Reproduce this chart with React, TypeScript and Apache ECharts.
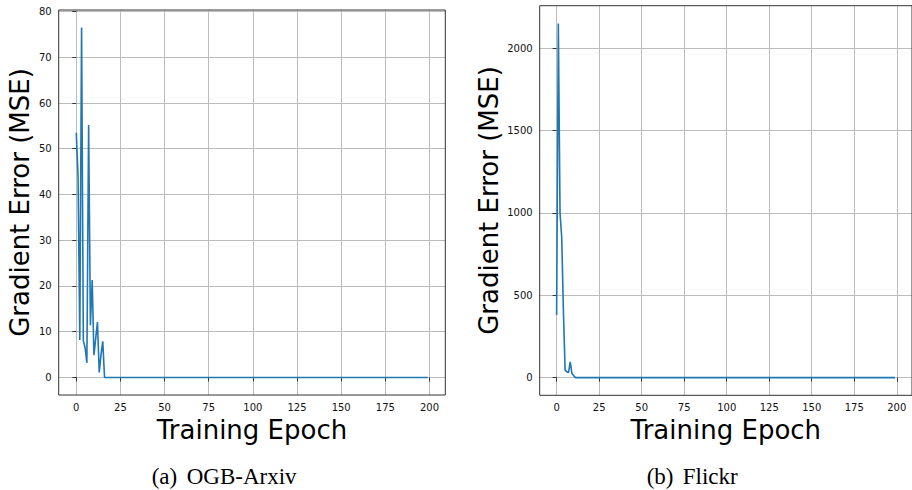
import React, { useEffect, useRef } from "react";
import * as echarts from "echarts";

// OGB-Arxiv gradient error (MSE) per training epoch
const arxivEpochs = [0, 1, 2, 3, 4, 5, 6, 7, 8, 9, 10, 11, 12, 13, 14, 15, 16, 199];
const arxivValues = [53.5, 44, 8.2, 76.5, 8.0, 6.5, 3.2, 55.2, 11.4, 21.3, 4.9, 8.5, 12.1, 1.1, 5.0, 7.9, 0, 0];

// Flickr gradient error (MSE) per training epoch
const flickrEpochs = [0, 1, 2, 3, 4, 5, 6, 7, 8, 9, 10, 11, 199];
const flickrValues = [380, 2150, 1000, 850, 400, 45, 35, 30, 95, 25, 12, 0, 0];

// tick labels
const xTicks = [0, 25, 50, 75, 100, 125, 150, 175, 200];
const arxivYTicks = [0, 10, 20, 30, 40, 50, 60, 70, 80];
const flickrYTicks = [0, 500, 1000, 1500, 2000];

const captionA = ["(a)", "OGB-Arxiv"];
const captionB = ["(b)", "Flickr"];

const FONT = "DejaVu Sans";
const SERIF = "Liberation Serif";

export default function App() {
  const ref = useRef<HTMLDivElement>(null);
  useEffect(() => {
    const chart = echarts.init(ref.current!, null, { renderer: "svg" });

    const plain = (v: number) => String(v);

    const mkX = (gridIndex: number) => ({
      type: "value",
      gridIndex,
      min: -9.95,
      max: 208.95,
      minInterval: 25,
      maxInterval: 25,
      name: "Training Epoch",
      nameLocation: "middle",
      nameGap: 20,
      nameTextStyle: { fontFamily: FONT, fontSize: 26, color: "#000" },
      axisLine: { show: false },
      axisTick: { show: true, inside: false, length: 4, customValues: xTicks, lineStyle: { color: "#333", width: 1 } },
      axisLabel: { customValues: xTicks, formatter: plain, margin: 7, fontFamily: FONT, fontSize: 10, color: "#111" },
      splitLine: { show: true, lineStyle: { color: "#bcbcbc", width: 1 } },
    });

    const mkY = (gridIndex: number, min: number, max: number, step: number, ticks: number[], gap: number) => ({
      type: "value",
      gridIndex,
      min,
      max,
      minInterval: step,
      maxInterval: step,
      name: "Gradient Error (MSE)",
      nameLocation: "middle",
      nameGap: gap,
      nameTextStyle: { fontFamily: FONT, fontSize: 26, color: "#000" },
      axisLine: { show: false },
      axisTick: { show: true, inside: false, length: 4, customValues: ticks, lineStyle: { color: "#333", width: 1 } },
      axisLabel: { customValues: ticks, formatter: plain, margin: 7, fontFamily: FONT, fontSize: 10, color: "#111" },
      splitLine: { show: true, lineStyle: { color: "#bcbcbc", width: 1 } },
    });

    const gridBase = {
      show: true,
      z: 5,
      borderColor: "#333",
      borderWidth: 1,
      backgroundColor: "transparent",
      containLabel: false,
    };

    const capText = (text: string, x: number) => ({
      type: "text",
      x,
      y: 476,
      style: {
        text,
        fontFamily: SERIF,
        fontSize: 23,
        fill: "#000",
        textAlign: "left",
        textVerticalAlign: "middle",
      },
    });

    chart.setOption({
      animation: false,
      backgroundColor: "#fff",
      grid: [
        { ...gridBase, left: 58.7, top: 10, width: 386.6, height: 385 },
        { ...gridBase, left: 539.7, top: 5.7, width: 373, height: 389.6 },
      ],
      xAxis: [mkX(0), mkX(1)],
      yAxis: [
        mkY(0, -3.83, 80.33, 10, arxivYTicks, 26),
        mkY(1, -107.5, 2257.5, 500, flickrYTicks, 38),
      ],
      series: [
        {
          type: "line",
          xAxisIndex: 0,
          yAxisIndex: 0,
          data: arxivEpochs.map((e, i) => [e, arxivValues[i]]),
          showSymbol: false,
          symbol: "none",
          lineStyle: { color: "#1f77b4", width: 1.6 },
        },
        {
          type: "line",
          xAxisIndex: 1,
          yAxisIndex: 1,
          data: flickrEpochs.map((e, i) => [e, flickrValues[i]]),
          showSymbol: false,
          symbol: "none",
          lineStyle: { color: "#1f77b4", width: 1.6 },
        },
      ],
      graphic: [
        capText(captionA[0], 151.7),
        capText(captionA[1], 186.7),
        capText(captionB[0], 646.7),
        capText(captionB[1], 682.7),
      ],
    });

    return () => chart.dispose();
  }, []);

  return (
    <div
      ref={ref}
      style={{ position: "fixed", left: 0, top: 0, width: 912, height: 490 }}
    />
  );
}
